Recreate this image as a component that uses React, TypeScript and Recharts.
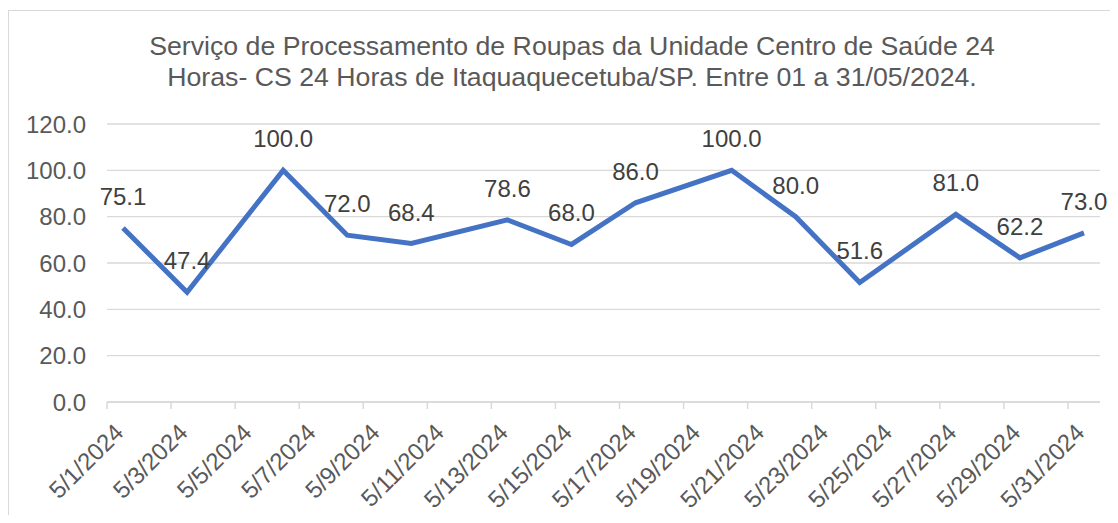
import { LineChart, Line, XAxis, YAxis, CartesianGrid, LabelList } from 'recharts';

const days = [1, 3, 6, 8, 10, 13, 15, 17, 20, 22, 24, 27, 29, 31];
const values = [75.1, 47.4, 100.0, 72.0, 68.4, 78.6, 68.0, 86.0, 100.0, 80.0, 51.6, 81.0, 62.2, 73.0];
const tickDays = [1, 3, 5, 7, 9, 11, 13, 15, 17, 19, 21, 23, 25, 27, 29, 31];
const yTicks = [0, 20, 40, 60, 80, 100, 120];
const titleLines = [
  'Serviço de Processamento de Roupas da Unidade Centro de Saúde 24',
  'Horas- CS 24 Horas de Itaquaquecetuba/SP. Entre 01 a 31/05/2024.',
];

const data = days.map((d, i) => ({ day: d, value: values[i] }));

const W = 1101;
const H = 504;
const MARGIN = { top: 113, right: 10, left: 0, bottom: 0 };
const Y_W = 98;
const X_H = 113;
const PLOT_W = W - MARGIN.left - MARGIN.right - Y_W;
const HALF_SLOT = PLOT_W / 31 / 2;

const FONT = '"Liberation Sans", Arial, sans-serif';
const TEXT = '#595959';
const GRID = '#d9d9d9';

// tick y comes in below the axis by tickSize + tickMargin (8px)
const DateTick = (props: any) => {
  const { x, y, payload } = props;
  const ay = y - 8;
  const tx = x + 2;
  const ty = y + 24;
  return (
    <g>
      <line x1={x - HALF_SLOT} x2={x - HALF_SLOT} y1={ay} y2={ay + 7} stroke={GRID} strokeWidth={1.5} />
      <text
        x={tx}
        y={ty}
        textAnchor="end"
        fill={TEXT}
        fontSize={24}
        fontFamily={FONT}
        transform={`rotate(-45, ${tx}, ${ty})`}
      >
        {`5/${payload.value}/2024`}
      </text>
    </g>
  );
};

export default function App() {
  return (
    <div
      style={{
        position: 'relative',
        marginTop: 2,
        width: W,
        height: H,
        borderLeft: `1px solid ${GRID}`,
        borderTop: `1px solid ${GRID}`,
        fontFamily: FONT,
      }}
    >
      <div
        style={{
          position: 'absolute',
          top: 20,
          left: 113,
          width: 900,
          textAlign: 'center',
          fontSize: 26.7,
          lineHeight: '31px',
          color: TEXT,
          whiteSpace: 'nowrap',
        }}
      >
        {titleLines[0]}
        <br />
        {titleLines[1]}
      </div>
      <LineChart width={W} height={H} data={data} margin={MARGIN}>
        <CartesianGrid vertical={false} stroke={GRID} strokeWidth={1.3} />
        <XAxis
          dataKey="day"
          type="number"
          domain={[0.5, 31.5]}
          ticks={tickDays}
          interval={0}
          height={X_H}
          stroke={GRID}
          strokeWidth={1.5}
          tickLine={false}
          tick={<DateTick />}
        />
        <YAxis
          width={Y_W}
          domain={[0, 120]}
          ticks={yTicks}
          axisLine={false}
          tickLine={false}
          tickSize={0}
          tickMargin={21}
          tickFormatter={(v: number) => v.toFixed(1)}
          tick={{ fill: TEXT, fontSize: 24, fontFamily: FONT }}
        />
        <Line
          type="linear"
          dataKey="value"
          stroke="#4472C4"
          strokeWidth={5}
          dot={false}
          isAnimationActive={false}
        >
          <LabelList
            dataKey="value"
            position="top"
            offset={23}
            formatter={(v: any) => Number(v).toFixed(1)}
            fill="#404040"
            fontSize={24}
            fontFamily={FONT}
          />
        </Line>
      </LineChart>
    </div>
  );
}
